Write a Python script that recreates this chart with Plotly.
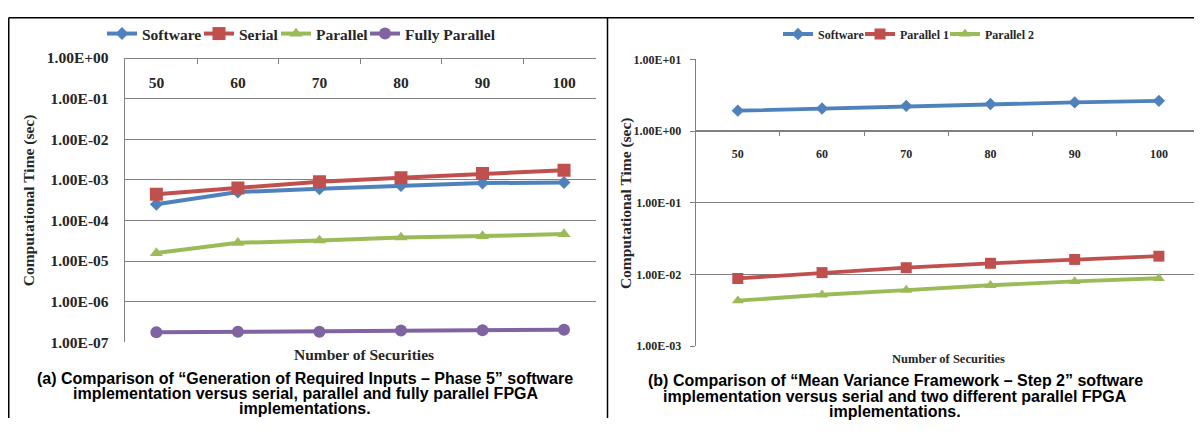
import plotly.graph_objects as go

# ---------------- data ----------------
securities = ["50", "60", "70", "80", "90", "100"]

# Panel (a)
a_software = [2.5e-4, 5.0e-4, 6.0e-4, 7.2e-4, 8.3e-4, 8.6e-4]
a_serial = [4.4e-4, 6.3e-4, 9.0e-4, 1.13e-3, 1.43e-3, 1.72e-3]
a_parallel = [1.57e-5, 2.8e-5, 3.2e-5, 3.8e-5, 4.1e-5, 4.6e-5]
a_fully_parallel = [1.75e-7, 1.82e-7, 1.80e-7, 1.95e-7, 1.97e-7, 2.03e-7]
a_ytick_vals = [1e-7, 1e-6, 1e-5, 1e-4, 1e-3, 1e-2, 1e-1, 1e0]
a_ytick_text = ["1.00E-07", "1.00E-06", "1.00E-05", "1.00E-04",
                "1.00E-03", "1.00E-02", "1.00E-01", "1.00E+00"]

# Panel (b)
b_software = [1.93, 2.07, 2.25, 2.39, 2.52, 2.65]
b_parallel1 = [8.8e-3, 1.06e-2, 1.24e-2, 1.43e-2, 1.62e-2, 1.80e-2]
b_parallel2 = [4.3e-3, 5.2e-3, 6.05e-3, 7.06e-3, 7.98e-3, 8.84e-3]
b_ytick_vals = [1e-3, 1e-2, 1e-1, 1e0, 1e1]
b_ytick_text = ["1.00E-03", "1.00E-02", "1.00E-01", "1.00E+00", "1.00E+01"]

caption_a = ["(a) Comparison of \u201cGeneration of Required Inputs \u2013 Phase 5\u201d software",
             "implementation versus serial, parallel and fully parallel FPGA",
             "implementations."]
caption_b = ["(b) Comparison of \u201cMean Variance Framework \u2013 Step 2\u201d software",
             "implementation versus serial and two different parallel FPGA",
             "implementations."]

# ---------------- style ----------------
# The page body keeps the browser's default 8px margin, so the figure is
# 16px smaller than the 1202x434 window and every screen position is offset by 8.
OFF = 8
W, H = 1202 - 2 * OFF, 434 - 2 * OFF
BLUE, RED, GREEN, PURPLE = "#4F81BD", "#C0504D", "#9BBB59", "#8064A2"
GRID = "#808080"
TXT = "#262626"
SERIF = "Liberation Serif"
SANS = "Liberation Sans"
LFS = 15.5   # left panel font size
RFS = 12     # right panel font size
CFS = 16     # caption font size


def px(x):
    return min(1.0, max(0.0, (x - OFF) / W))


def py(y):
    return min(1.0, max(0.0, 1 - (y - OFF) / H))


def sfont(size):
    return dict(family=SERIF, size=size, color=TXT, weight="bold")


fig = go.Figure()

series_a = [("Software", a_software, BLUE, "diamond", 10),
            ("Serial", a_serial, RED, "square", 13),
            ("Parallel", a_parallel, GREEN, "triangle-up", 11.5),
            ("Fully Parallel", a_fully_parallel, PURPLE, "circle", 12)]
legend_a_text_x = [142, 239, 316, 405]

series_b = [("Software", b_software, BLUE, "diamond", 9.5),
            ("Parallel 1", b_parallel1, RED, "square", 11),
            ("Parallel 2", b_parallel2, GREEN, "triangle-up", 10.5)]
legend_b_text_x = [818, 900, 985]

legend_layouts = {}
li = 1
for (name, vals, col, sym, sz), tx in zip(series_a, legend_a_text_x):
    key = "legend" if li == 1 else f"legend{li}"
    fig.add_trace(go.Scatter(x=securities, y=vals, name=name, mode="lines+markers",
                             line=dict(color=col, width=4),
                             marker=dict(symbol=sym, size=sz, color=col),
                             xaxis="x", yaxis="y", legend=key))
    legend_layouts[key] = dict(x=px(tx - 40), y=py(25.7), xanchor="left", yanchor="middle",
                               orientation="h", bgcolor="rgba(0,0,0,0)",
                               font=sfont(LFS), itemwidth=30)
    li += 1
for (name, vals, col, sym, sz), tx in zip(series_b, legend_b_text_x):
    key = f"legend{li}"
    fig.add_trace(go.Scatter(x=securities, y=vals, name=name, mode="lines+markers",
                             line=dict(color=col, width=3.8),
                             marker=dict(symbol=sym, size=sz, color=col),
                             xaxis="x2", yaxis="y2", legend=key))
    legend_layouts[key] = dict(x=px(tx - 40), y=py(25.7), xanchor="left", yanchor="middle",
                               orientation="h", bgcolor="rgba(0,0,0,0)",
                               font=sfont(RFS), itemwidth=30)
    li += 1

# plot areas (screen pixels)
A_L, A_R, A_T, A_B = 124.7, 595.7, 50.7, 347.0
B_L, B_R, B_T, B_B = 695.7, 1201.0, 52.3, 351.0
B_XAXIS_Y = 126.3
B_R_VIS = OFF + W   # right edge of the drawable figure
n_cat = len(securities)
b_xrange = [-0.5, -0.5 + n_cat * (B_R_VIS - B_L) / (B_R - B_L)]

common_x = dict(type="category", showgrid=False, showline=True, linecolor=GRID, linewidth=1,
                ticks="outside", tickson="boundaries", ticklen=5, tickcolor=GRID,
                side="bottom", anchor="free", zeroline=False)

fig.update_layout(
    width=W, height=H, margin=dict(l=0, r=0, t=0, b=0),
    paper_bgcolor="white", plot_bgcolor="white",
    xaxis=dict(common_x, domain=[px(A_L), px(A_R)], position=py(A_T),
               tickfont=sfont(LFS), ticklabelstandoff=10),
    yaxis=dict(type="log", range=[-7, 0], domain=[py(A_B), py(A_T)],
               tickvals=a_ytick_vals, ticktext=a_ytick_text,
               showgrid=True, gridcolor=GRID, gridwidth=1,
               showline=True, linecolor=GRID, ticks="", ticklabelstandoff=12,
               tickfont=sfont(LFS), zeroline=False),
    xaxis2=dict(common_x, domain=[px(B_L), px(B_R_VIS)], position=py(B_XAXIS_Y),
                range=b_xrange, tickfont=sfont(RFS), ticklabelstandoff=12),
    yaxis2=dict(type="log", range=[-3, 1], domain=[py(B_B), py(B_T)], anchor="x2",
                tickvals=b_ytick_vals, ticktext=b_ytick_text,
                showgrid=True, gridcolor=GRID, gridwidth=1,
                showline=True, linecolor=GRID, ticks="outside", ticklen=5, tickcolor=GRID,
                ticklabelstandoff=6,
                tickfont=sfont(RFS), zeroline=False),
    showlegend=True,
    **legend_layouts,
)

ann = []
# axis titles
ann.append(dict(x=px(29), y=py(199), text="Computational Time (sec)", textangle=-90,
                font=sfont(LFS)))
ann.append(dict(x=px(626), y=py(202), text="Computational Time (sec)", textangle=-90,
                font=sfont(15.5)))
ann.append(dict(x=px(363.7), y=py(360), text="Number of Securities", font=sfont(LFS)))
ann.append(dict(x=px(948.3), y=py(365), text="Number of Securities", font=sfont(12.5)))
# captions
for txt, yy in zip(caption_a, [385, 400.7, 416]):
    ann.append(dict(x=px(305), y=py(yy), text=txt,
                    font=dict(family=SANS, size=CFS, color="black", weight="bold")))
for txt, yy in zip(caption_b, [386.7, 403.3, 419.3]):
    ann.append(dict(x=px(895), y=py(yy), text=txt,
                    font=dict(family=SANS, size=CFS, color="black", weight="bold")))
for a in ann:
    a.update(xref="paper", yref="paper", showarrow=False, xanchor="center", yanchor="middle")
fig.update_layout(annotations=ann)

# frame lines (the reference frame sits at 6px, just inside the page margin here)
fx0, fy0 = px(OFF + 0.75), py(OFF + 0.75)
shapes = [
    dict(type="line", xref="paper", yref="paper", x0=fx0, x1=1, y0=fy0, y1=fy0,
         line=dict(color="black", width=1.5)),
    dict(type="line", xref="paper", yref="paper", x0=fx0, x1=fx0, y0=fy0, y1=0,
         line=dict(color="black", width=1.5)),
    dict(type="line", xref="paper", yref="paper", x0=px(607.5), x1=px(607.5), y0=fy0, y1=0,
         line=dict(color="black", width=1.5)),
]
fig.update_layout(shapes=shapes)

fig.write_html("out.html", config={"displayModeBar": False})
